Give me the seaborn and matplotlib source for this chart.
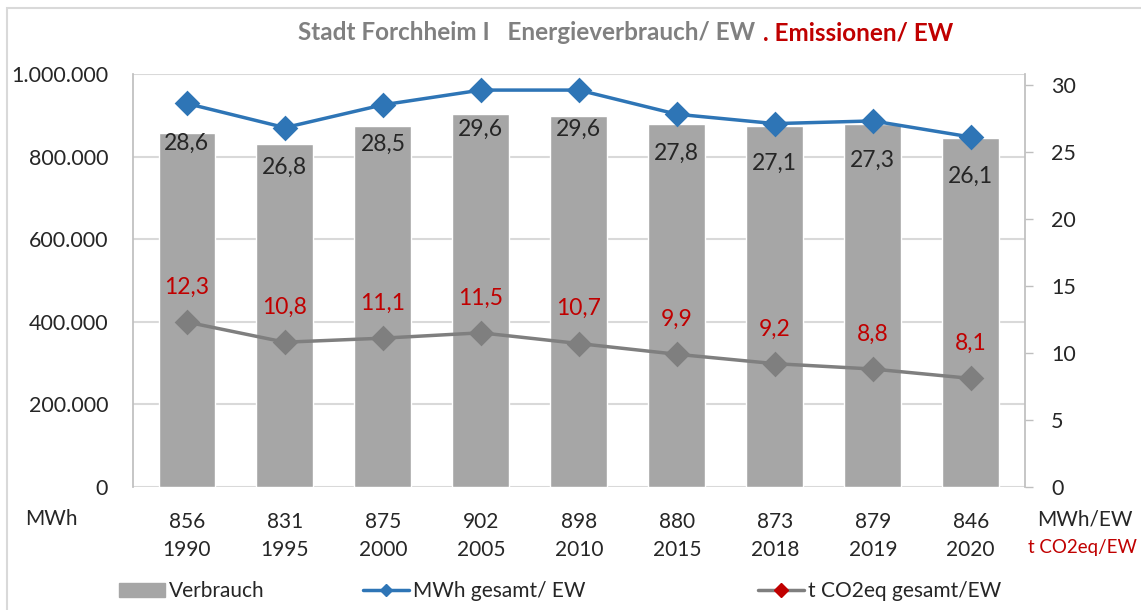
import pandas as pd
import seaborn as sns
import matplotlib.pyplot as plt
from matplotlib.patches import Patch, Rectangle
from matplotlib.lines import Line2D

# chart data
years = ['1990', '1995', '2000', '2005', '2010', '2015', '2018', '2019', '2020']
verbrauch_mwh = [856, 831, 875, 902, 898, 880, 873, 879, 846]  # thousand MWh
mwh_per_ew = [28.6, 26.8, 28.5, 29.6, 29.6, 27.8, 27.1, 27.3, 26.1]
co2_per_ew = [12.3, 10.8, 11.1, 11.5, 10.7, 9.9, 9.2, 8.8, 8.1]
left_ticks = [0, 200000, 400000, 600000, 800000, 1000000]
right_ticks = [0, 5, 10, 15, 20, 25, 30]

BAR = '#A6A6A6'
BLUE = '#2E75B6'
RED = '#C00000'
LINEGRAY = '#7F7F7F'
TXT = '#262626'

df = pd.DataFrame({'year': years,
                   'verbrauch': [v * 1000 for v in verbrauch_mwh],
                   'mwh_ew': mwh_per_ew,
                   'co2_ew': co2_per_ew})

sns.set_theme(style='white')
plt.rcParams['font.family'] = ['Lato', 'DejaVu Sans']

fig = plt.figure(figsize=(11.41, 6.10), dpi=100)
ax1 = fig.add_axes([0.1166, 0.2016, 0.7814, 0.6771])

sns.barplot(data=df, x='year', y='verbrauch', color=BAR, width=0.58,
            saturation=1, ax=ax1)
ax1.set_ylim(0, 1000000)
ax1.set_xlim(-0.55, len(years) - 0.45)
ax1.set_yticks(left_ticks)
ax1.set_yticklabels([f'{t:,}'.replace(',', '.') for t in left_ticks],
                    fontsize=15.5, color=TXT)
ax1.yaxis.grid(True, color='#D9D9D9', linewidth=1.5)
ax1.set_axisbelow(True)
ax1.tick_params(axis='y', length=0, pad=18)
ax1.set_xticks(range(len(years)))
ax1.set_xticklabels([f'{v}\n{y}' for v, y in zip(verbrauch_mwh, years)],
                    fontsize=15, color=TXT, linespacing=1.5)
ax1.tick_params(axis='x', length=0, pad=18)
ax1.set_xlabel('')
ax1.set_ylabel('')
for s in ['top', 'bottom']:
    ax1.spines[s].set_visible(False)
ax1.spines['left'].set_color('#BFBFBF')
ax1.spines['right'].set_visible(False)

ax2 = ax1.twinx()
sns.pointplot(data=df, x='year', y='mwh_ew', color=BLUE, markers='D',
              markersize=11, linewidth=2.5, ax=ax2)
sns.pointplot(data=df, x='year', y='co2_ew', color=LINEGRAY, markers='D',
              markersize=11, linewidth=2.5, ax=ax2)
# red diamonds on the grey line
ax2.lines[-1].set_markerfacecolor(RED)
ax2.lines[-1].set_markeredgecolor(RED)
ax2.set_ylim(0, 30.8)
ax2.set_xlim(-0.55, len(years) - 0.45)
ax2.set_yticks(right_ticks)
ax2.set_yticklabels([str(t) for t in right_ticks], fontsize=15.5, color=TXT)
ax2.tick_params(axis='y', length=6, width=1, color='#BFBFBF', pad=13)
ax2.set_ylabel('')
ax2.set_xlabel('')
for s in ['top', 'bottom', 'left']:
    ax2.spines[s].set_visible(False)
ax2.spines['right'].set_color('#BFBFBF')

# data labels
for i, v in enumerate(mwh_per_ew):
    ax2.annotate(f'{v:.1f}'.replace('.', ','), (i, v), xytext=(0, -28.5),
                 textcoords='offset points', ha='center', va='center',
                 fontsize=16.5, color=TXT)
for i, v in enumerate(co2_per_ew):
    ax2.annotate(f'{v:.1f}'.replace('.', ','), (i, v), xytext=(0, 25),
                 textcoords='offset points', ha='center', va='center',
                 fontsize=16.5, color=RED)

# title in two colours
fig.text(0.662, 0.946, 'Stadt Forchheim I   Energieverbrauch/ EW', ha='right',
         va='center', fontsize=17.5, fontweight='bold', color='#808080')
fig.text(0.669, 0.946, '. Emissionen/ EW', ha='left', va='center',
         fontsize=17.5, fontweight='bold', color=RED)

# axis unit labels
fig.text(0.045, 0.149, 'MWh', ha='center', va='center', fontsize=15, color=TXT)
fig.text(0.951, 0.149, 'MWh/EW', ha='center', va='center', fontsize=15, color=TXT)
fig.text(0.901, 0.103, 't CO2eq/EW', ha='left', va='center', fontsize=13.5, color=RED)

# legend entries placed separately
h1 = Patch(facecolor=BAR, edgecolor=BAR)
h2 = Line2D([], [], color=BLUE, marker='D', markersize=6, linewidth=2.5)
h3 = Line2D([], [], color=LINEGRAY, marker='D', markersize=7, linewidth=2.5,
            markerfacecolor=RED, markeredgecolor=RED)
for h, lab, x in [(h1, 'Verbrauch', 0.097), (h2, 'MWh gesamt/ EW', 0.311),
                  (h3, 't CO2eq gesamt/EW', 0.657)]:
    lg = fig.legend([h], [lab], loc='center left', bbox_to_anchor=(x, 0.031),
                    frameon=False, fontsize=15, handlelength=2.2,
                    handletextpad=0.2, borderaxespad=0)
    for t in lg.get_texts():
        t.set_color(TXT)

# outer chart frame
fig.patches.append(Rectangle((0.006, -0.01), 1.2, 0.997, transform=fig.transFigure,
                             fill=False, edgecolor='#D9D9D9', linewidth=1.5))

fig.savefig('out.png', dpi=100)
